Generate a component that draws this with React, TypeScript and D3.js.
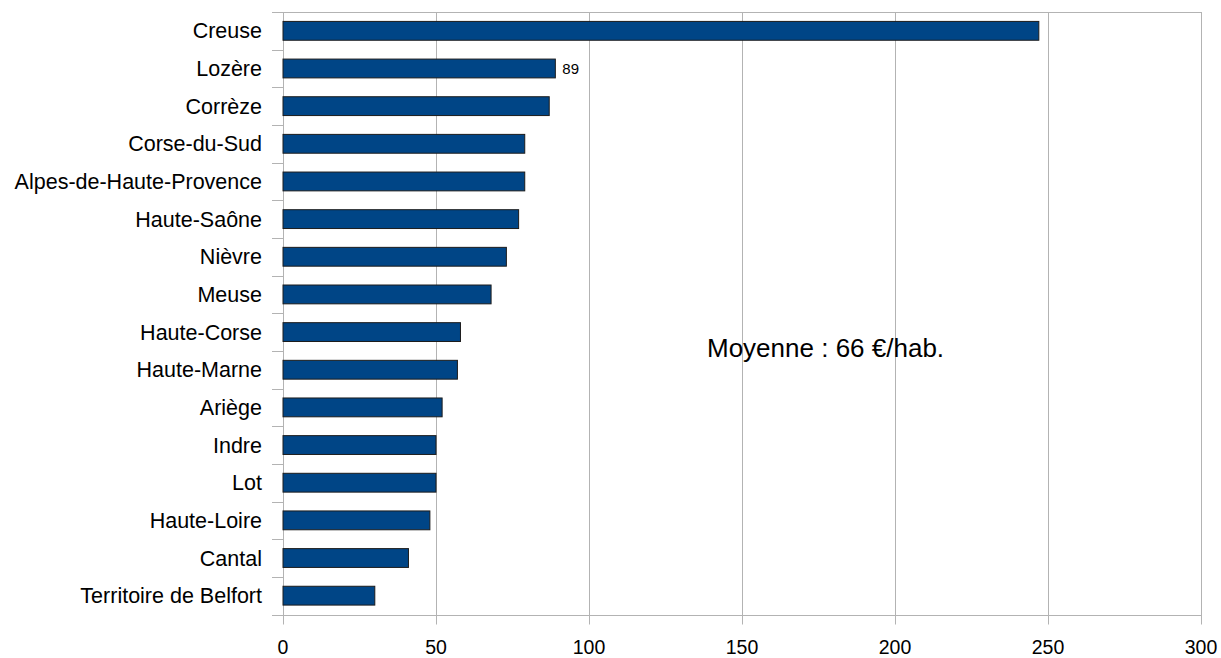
import React from "react";
import * as d3 from "d3";

const categories = [
  "Creuse", "Lozère", "Corrèze", "Corse-du-Sud", "Alpes-de-Haute-Provence",
  "Haute-Saône", "Nièvre", "Meuse", "Haute-Corse", "Haute-Marne",
  "Ariège", "Indre", "Lot", "Haute-Loire", "Cantal", "Territoire de Belfort",
];
const values = [247, 89, 87, 79, 79, 77, 73, 68, 58, 57, 52, 50, 50, 48, 41, 30];
const labelledCategories = ["Lozère"];
const xTicks = [0, 50, 100, 150, 200, 250, 300];
const annotation = "Moyenne : 66 €/hab.";

const W = 1221, H = 658;
const margin = { left: 283, right: 20, top: 12, bottom: 43.5 };

export default function App() {
  const x = d3.scaleLinear().domain([0, 300]).range([margin.left, W - margin.right]);
  const y = d3.scaleBand<string>().domain(categories).range([margin.top, H - margin.bottom]).paddingInner(0.5).paddingOuter(0.25);
  const bandStep = y.step();
  const top = margin.top, bottom = H - margin.bottom;
  const font = "'Liberation Sans', Arial, sans-serif";
  return (
    <svg width={W} height={H} style={{ position: "absolute", left: 0, top: 0, background: "#fff" }} fontFamily={font}>
      {/* gridlines */}
      {xTicks.map((t) => (
        <line key={"g" + t} x1={Math.round(x(t)) + 0.5} x2={Math.round(x(t)) + 0.5} y1={top} y2={bottom + 10} stroke="#b3b3b3" strokeWidth={1} />
      ))}
      <line x1={margin.left - 11} x2={x(300)} y1={Math.round(top) + 0.5} y2={Math.round(top) + 0.5} stroke="#b3b3b3" />
      <line x1={margin.left - 11} x2={x(300)} y1={Math.round(bottom) + 0.5} y2={Math.round(bottom) + 0.5} stroke="#b3b3b3" />
      {/* category ticks */}
      {categories.map((c, i) => {
        const yy = Math.round(top + bandStep * i) + 0.5;
        return <line key={"t" + c} x1={margin.left - 11} x2={margin.left} y1={yy} y2={yy} stroke="#b3b3b3" />;
      })}
      {/* bars */}
      {categories.map((c, i) => (
        <rect key={c} x={x(0)} y={y(c)!} width={x(values[i]) - x(0)} height={y.bandwidth()} fill="#004586" stroke="#1c1c1c" strokeWidth={1} />
      ))}
      {/* value labels */}
      {categories.map((c, i) =>
        labelledCategories.includes(c) ? (
          <text key={"v" + c} x={x(values[i]) + 7} y={y(c)! + y.bandwidth() / 2 + 5.5} fontSize={15} fill="#000">
            {values[i]}
          </text>
        ) : null
      )}
      {/* category labels */}
      {categories.map((c) => (
        <text key={"l" + c} x={262} y={y(c)! + y.bandwidth() / 2 + 7.5} textAnchor="end" fontSize={21.5} fill="#000">
          {c}
        </text>
      ))}
      {/* x tick labels */}
      {xTicks.map((t) => (
        <text key={"x" + t} x={x(t)} y={653.5} textAnchor="middle" fontSize={19.5} fill="#000">
          {t}
        </text>
      ))}
      <text x={707} y={357} fontSize={26} fill="#000">{annotation}</text>
    </svg>
  );
}
